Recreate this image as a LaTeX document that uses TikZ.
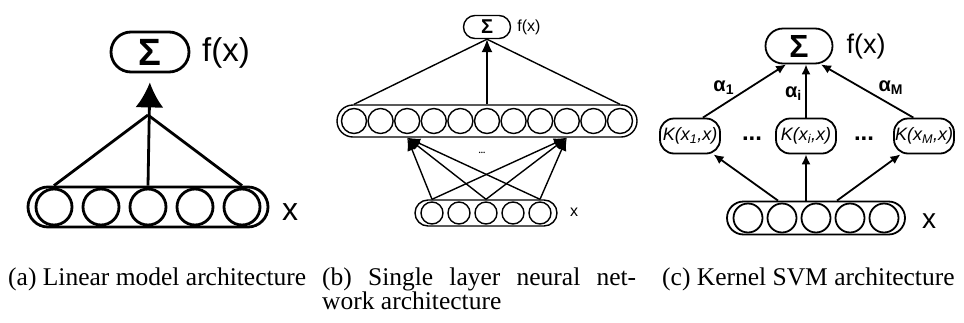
\documentclass[tikz,border=0pt]{standalone}
\usepackage{fontspec}
\setmainfont{Liberation Serif}
\newfontfamily\arial{Liberation Sans}
\usetikzlibrary{arrows.meta,positioning,calc}

\tikzset{
    layer/.style={draw, rounded corners=#1, inner sep=0pt},
    unit/.style={draw, circle, inner sep=0pt, minimum size=#1},
    sumbox/.style={draw, rounded corners=#1, inner sep=0pt},
    knode/.style={draw, rounded corners=14pt, inner sep=1pt, minimum width=60pt, minimum height=35pt,
        font=\arial\itshape\fontsize{18}{18}\selectfont},
    weight/.style={font=\arial\bfseries\fontsize{20}{20}\selectfont},
    caption/.style={anchor=base west, inner sep=0pt, font=\fontsize{25.5}{24.5}\selectfont},
}

\begin{document}
\begin{tikzpicture}[x=1pt,y=-1pt]
    \useasboundingbox (0,0) rectangle (964,322);

    % (a) Linear model
    \begin{scope}[line width=2.8pt]
        \node[sumbox=20pt, minimum width=78pt, minimum height=40pt, font=\arial\bfseries\fontsize{38}{38}\selectfont] (sa) at (150,52) {Σ};
        \node[font=\arial\fontsize{33}{33}\selectfont] (fa) at (226,53) {f(x)};
        \node[layer=20pt, minimum width=240pt, minimum height=40pt] (la) at (148,207) {};
        \foreach \i in {1,...,5}
            \node[unit=36pt] (ca\i) at ({148+47*(\i-3)},207) {};
        \node[font=\arial\fontsize{32}{32}\selectfont] (xa) at (290,212) {x};
        \coordinate (apex) at (148,115);
        \draw[-{Latex[length=25pt,width=28pt]}, shorten >=9pt] (la.north) -- (sa.south);
        \draw (la.north -| ca1) -- (apex);
        \draw (la.north -| ca5) -- (apex);
    \end{scope}

    % (b) Single layer neural network
    \begin{scope}[line width=1.4pt]
        \node[sumbox=11.5pt, minimum width=47pt, minimum height=23pt, font=\arial\bfseries\fontsize{20}{20}\selectfont] (sb) at (487,27) {Σ};
        \node[font=\arial\fontsize{16}{16}\selectfont] (fb) at (529,27) {f(x)};
        \node[layer=16pt, minimum width=300pt, minimum height=32pt] (lh) at (487,121) {};
        \foreach \i in {1,...,11}
            \node[unit=25pt] (h\i) at ({487+26.6*(\i-6)},121) {};
        \node[layer=13pt, minimum width=142pt, minimum height=26pt] (lb) at (486,213) {};
        \foreach \i in {1,...,5}
            \node[unit=22pt] (ib\i) at ({486+27*(\i-3)},213) {};
        \node[font=\arial\fontsize{16}{16}\selectfont] (xb) at (574,212) {x};
        \draw (lh.north -| h1) -- (sb.south);
        \draw (lh.north -| h11) -- (sb.south);
        \draw[-{Latex[length=13pt,width=11pt]}] (lh.north) -- (sb.south);
        \foreach \s in {1,3,5} {
            \draw[-{Latex[length=13pt,width=10pt]}] (lb.north -| ib\s) -- (lh.south -| h3);
            \draw[-{Latex[length=13pt,width=10pt]}] (lb.north -| ib\s) -- (lh.south -| h9);
        }
        \node[font=\bfseries\fontsize{9}{9}\selectfont] (db) at (482,153) {...};
    \end{scope}

    % (c) Kernel SVM
    \begin{scope}[line width=1.8pt]
        \node[sumbox=17.5pt, minimum width=67pt, minimum height=35pt, font=\arial\bfseries\fontsize{32}{32}\selectfont] (sc) at (799,46) {Σ};
        \node[font=\arial\fontsize{27}{27}\selectfont] (fc) at (866,47) {f(x)};
        \node[knode] (k1) at (690,136) {K(x\textsubscript{1},x)};
        \node[knode] (ki) at (806,136) {K(x\textsubscript{i},x)};
        \node[knode] (kM) at (924,136) {K(x\textsubscript{M},x)};
        \node[font=\arial\bfseries\fontsize{24}{24}\selectfont] (d1) at (752,139) {...};
        \node[font=\arial\bfseries\fontsize{24}{24}\selectfont] (d2) at (864,139) {...};
        \node[layer=16.5pt, minimum width=178pt, minimum height=33pt] (lc) at (816,218) {};
        \foreach \i in {1,...,5}
            \node[unit=29pt] (ic\i) at ({816+34*(\i-3)},218) {};
        \node[font=\arial\fontsize{28}{28}\selectfont] (xc) at (929,221) {x};
        % from inputs to kernels
        \draw[-{Latex[length=10pt,width=9pt]}] ([xshift=-38pt]lc.north) -- (k1.322);
        \draw[-{Latex[length=10pt,width=9pt]}] (lc.north -| ki) -- (ki.south);
        \draw[-{Latex[length=10pt,width=9pt]}] ([xshift=21pt]lc.north) -- (kM.218);
        % from kernels to sum
        \draw[-{Latex[length=10pt,width=9pt]}] (k1.55) -- (sc.235) node[pos=0.4, above left=-3pt, weight] (a1) {α\textsubscript{1}};
        \draw[-{Latex[length=10pt,width=9pt]}] (ki.north) -- (sc.south -| ki) node[pos=0.45, left=0pt, weight] (ai) {α\textsubscript{i}};
        \draw[-{Latex[length=10pt,width=9pt]}] (kM.120) -- (sc.320) node[pos=0.4, above right=-3pt, weight] (aM) {α\textsubscript{M}};
    \end{scope}

    % Captions
    \node[caption] (capa) at (8,285) {(a) Linear model architecture};
    \node[caption, text width=314pt, align=justify] (capb) at (322,285) {(b) Single layer neural net-\linebreak work architecture};
    \node[caption] (capc) at (662,285) {(c) Kernel SVM architecture};

\end{tikzpicture}
\end{document}
